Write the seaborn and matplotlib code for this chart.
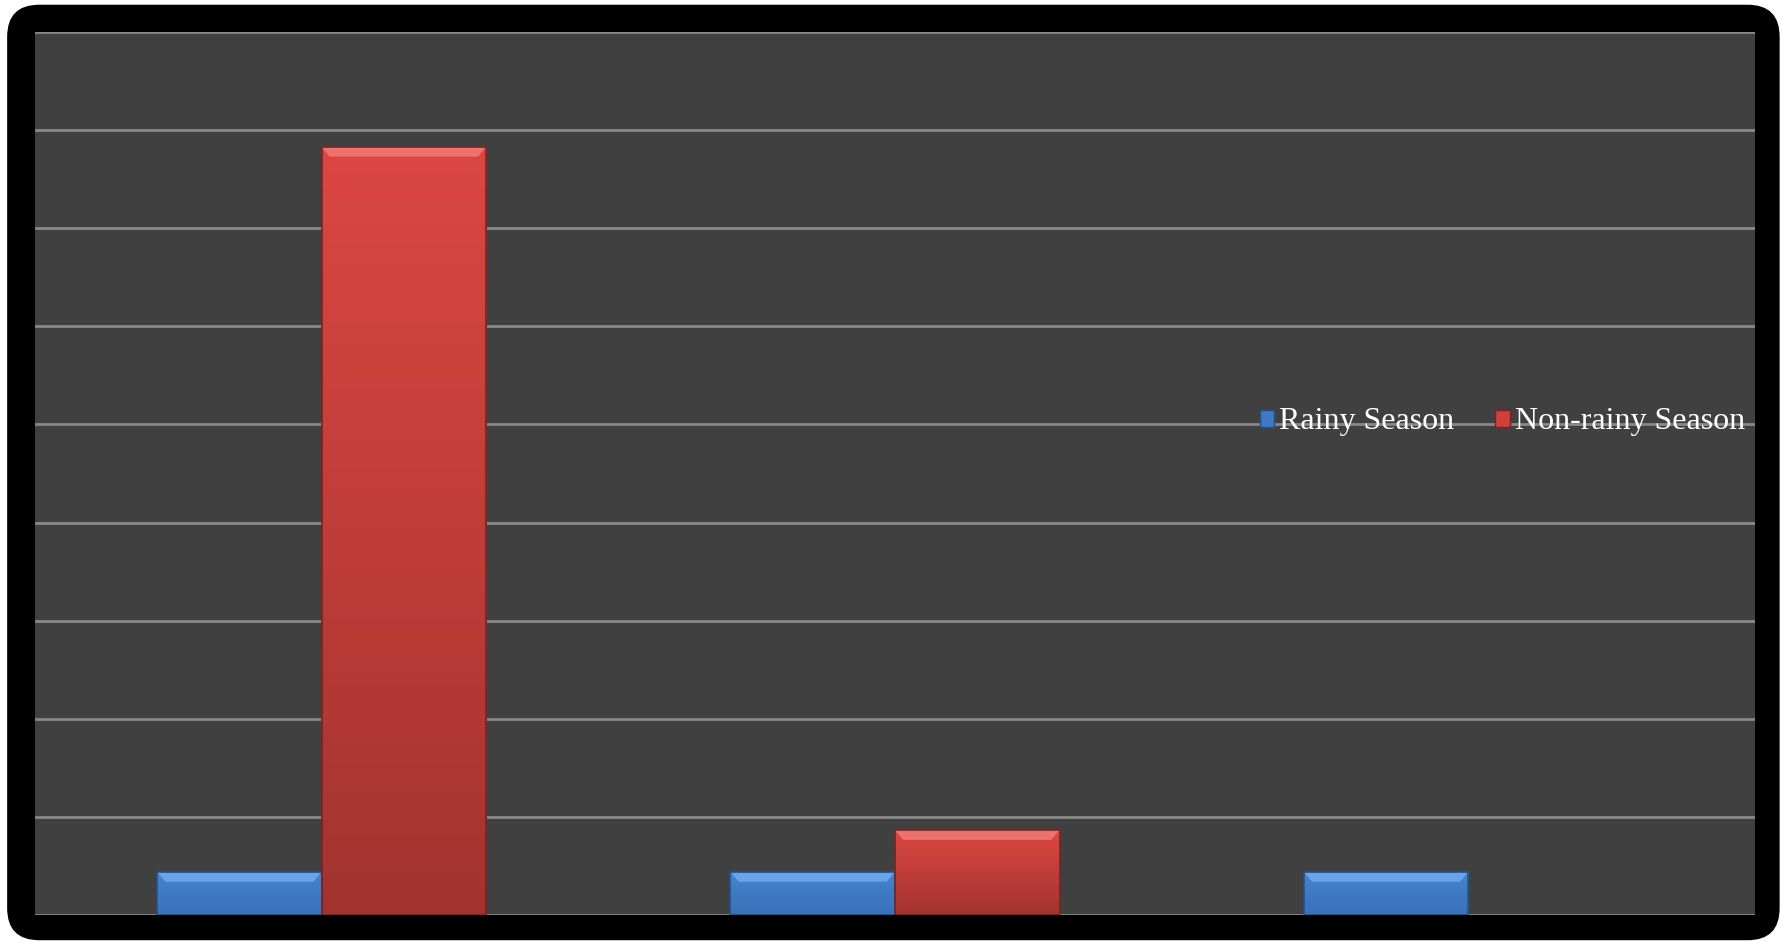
import numpy as np
import pandas as pd
import matplotlib
matplotlib.use("Agg")
import matplotlib.pyplot as plt
import seaborn as sns
from matplotlib.patches import FancyBboxPatch, Patch, Polygon
from matplotlib.colors import LinearSegmentedColormap

# Data
categories = ["A", "B", "C"]
series_names = ["Rainy Season", "Non-rainy Season"]
rainy = [2.2, 2.2, 2.2]
non_rainy = [39.15, 4.33, 0.0]

df = pd.DataFrame({
    "category": categories * 2,
    "season": [series_names[0]] * 3 + [series_names[1]] * 3,
    "value": rainy + non_rainy,
})

sns.set_theme(style="dark")
plt.rcParams["font.family"] = ["Liberation Serif", "DejaVu Serif"]

BG = "#404040"
GRID = "#888888"
palette = {series_names[0]: "#3f78c3", series_names[1]: "#cf403c"}
shades = {
    series_names[0]: ("#4684d0", "#3a70b8", "#6fa8ec", "#24508a"),
    series_names[1]: ("#dc4742", "#a3332f", "#f07873", "#7a2220"),
}

fig = plt.figure(figsize=(17.85, 9.44), dpi=100, facecolor="white")

# Rounded black frame behind the chart
frame = FancyBboxPatch((0.004, 0.004), 0.993, 0.991,
                       boxstyle="round,pad=0,rounding_size=0.018",
                       transform=fig.transFigure, facecolor="black",
                       edgecolor="none", zorder=0, mutation_aspect=1.89)
fig.patches.append(frame)

ax = fig.add_axes([0.0196, 0.0307, 0.9636, 0.9354])
ax.set_zorder(2)
ax.set_facecolor(BG)

sns.barplot(data=df, x="category", y="value", hue="season",
            palette=palette, width=0.574, gap=0.0, saturation=1,
            legend=False, ax=ax, zorder=3, edgecolor="none")

ax.set_ylim(0, 45)
ax.set_yticks(np.arange(0, 46, 5))
xlim = ax.get_xlim()
ax.yaxis.grid(True, color=GRID, linewidth=2, zorder=0)
ax.xaxis.grid(False)
ax.set_axisbelow(True)
ax.set_xlabel("")
ax.set_ylabel("")
ax.set_xticklabels([])
ax.set_yticklabels([])
ax.tick_params(length=0)
for s in ax.spines.values():
    s.set_visible(False)

# Shade each bar with a vertical gradient and a bevelled top edge
n_cat = len(categories)
for i, patch in enumerate(list(ax.patches)):
    name = series_names[i // n_cat]
    top_c, bot_c, hi_c, edge_c = shades[name]
    x, y = patch.get_x(), patch.get_y()
    w, h = patch.get_width(), patch.get_height()
    if h <= 0:
        continue
    cmap = LinearSegmentedColormap.from_list("g", [bot_c, top_c])
    grad = np.linspace(0, 1, 256).reshape(-1, 1)
    im = ax.imshow(grad, extent=[x, x + w, y, y + h], origin="lower",
                   aspect="auto", cmap=cmap, zorder=4)
    im.set_clip_path(patch)
    bevel = 0.5
    dx = w * 0.05
    ax.add_patch(Polygon([[x, y + h], [x + w, y + h],
                          [x + w - dx, y + h - bevel], [x + dx, y + h - bevel]],
                         closed=True, facecolor=hi_c, edgecolor="none",
                         zorder=5, alpha=0.9))
    ax.add_patch(plt.Rectangle((x, y), w, h, fill=False, edgecolor=edge_c,
                               linewidth=1.2, zorder=6))

ax.set_xlim(xlim)
ax.set_ylim(0, 45)

handles = [Patch(facecolor=palette[n], edgecolor=shades[n][3]) for n in series_names]
leg = fig.legend(handles, series_names, loc="center", bbox_to_anchor=(0.8415, 0.553),
                 ncol=2, frameon=False, fontsize=23, labelcolor="white",
                 handlelength=0.45, handleheight=0.45, handletextpad=0.15,
                 columnspacing=1.3)
leg.set_zorder(10)

fig.savefig("out.png", dpi=100, facecolor="white")
